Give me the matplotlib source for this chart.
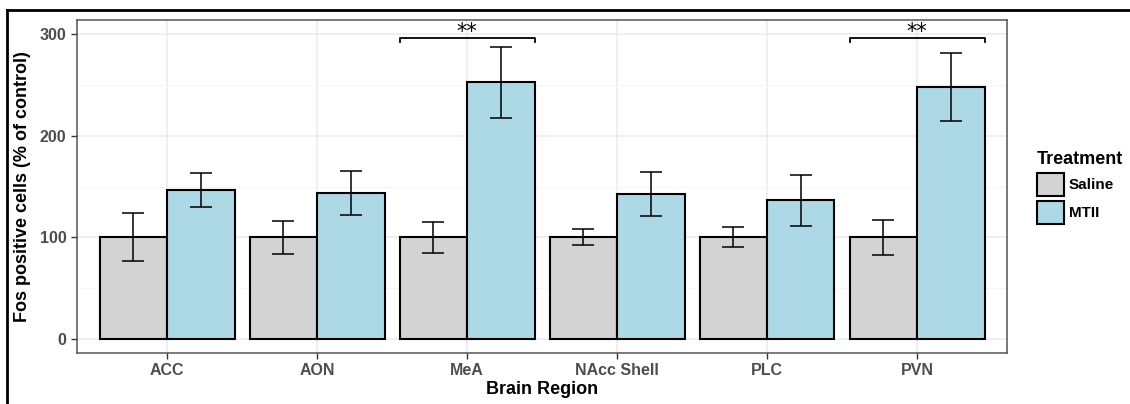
import matplotlib.pyplot as plt
import numpy as np
from matplotlib.patches import Patch
from matplotlib.lines import Line2D

regions = ['ACC', 'AON', 'MeA', 'NAcc Shell', 'PLC', 'PVN']
saline = [100, 100, 100, 100, 100, 100]
saline_err = [23.5, 16, 15, 8, 10, 17.5]
mtii = [146.5, 143.5, 252.5, 142.5, 136.5, 247.5]
mtii_err = [16.5, 21.5, 35, 22, 25, 33.5]
sig_regions = ['MeA', 'PVN']
sig_label = '**'

plt.rcParams['font.family'] = ['Liberation Sans', 'DejaVu Sans']
plt.rcParams['font.weight'] = 'bold'

fig = plt.figure(figsize=(11.3, 4.04), dpi=100)
ax = fig.add_axes([77 / 1130, 1 - 353 / 404, 930 / 1130, 333 / 404])

x = np.arange(len(regions))
w = 0.45
ax.bar(x - w / 2, saline, w, color='#D3D3D3', edgecolor='black', linewidth=1.5, zorder=3)
ax.bar(x + w / 2, mtii, w, color='#ADD8E6', edgecolor='black', linewidth=1.5, zorder=3)
ax.errorbar(x - w / 2, saline, yerr=saline_err, fmt='none', ecolor='black', elinewidth=1.1,
            capsize=11.5 * 0.72, capthick=1.1, zorder=4)
ax.errorbar(x + w / 2, mtii, yerr=mtii_err, fmt='none', ecolor='black', elinewidth=1.1,
            capsize=11.5 * 0.72, capthick=1.1, zorder=4)

for r in sig_regions:
    i = regions.index(r)
    ax.plot([i - w, i - w, i + w, i + w], [292, 296, 296, 292], color='black', lw=1.3, zorder=4)
    ax.text(i, 292, sig_label, ha='center', va='bottom', fontsize=15, color='black',
            fontweight='normal', family='DejaVu Sans')

ax.set_xlim(-0.6, 5.6)
ax.set_ylim(-13.8, 313.8)
ax.set_xticks(x)
ax.set_xticklabels(regions)
ax.set_yticks([0, 100, 200, 300])
ax.set_yticks([50, 150, 250], minor=True)
ax.grid(True, which='major', color='#EBEBEB', lw=1.1, zorder=0)
ax.grid(True, which='minor', axis='y', color='#F4F4F4', lw=0.6, zorder=0)
ax.tick_params(which='major', length=4, color='#333333', labelsize=11.5, labelcolor='#4D4D4D', width=1)
ax.tick_params(which='minor', length=0)
for s in ax.spines.values():
    s.set_color('#555555')
    s.set_linewidth(1.1)

ax.set_xlabel('Brain Region', fontsize=13, fontweight='bold', labelpad=2)
ax.set_ylabel('Fos positive cells (% of control)', fontsize=13, fontweight='bold', labelpad=6)

handles = [Patch(facecolor='#D3D3D3', edgecolor='black', linewidth=1.5, label='Saline'),
           Patch(facecolor='#ADD8E6', edgecolor='black', linewidth=1.5, label='MTII')]
leg = fig.legend(handles=handles, title='Treatment', loc='upper left',
                 bbox_to_anchor=(1026 / 1130, 1 - 140 / 404), frameon=False,
                 fontsize=11, title_fontsize=13, handlelength=1.8, handleheight=1.9,
                 labelspacing=0.35, handletextpad=0.3, borderpad=0.2)
leg.get_title().set_fontweight('bold')
leg._legend_box.align = 'left'

fig.add_artist(Line2D([7 / 1130, 7 / 1130], [0, 1 - 10 / 404], color='black', lw=2,
                      transform=fig.transFigure))
fig.add_artist(Line2D([7 / 1130, 1], [1 - 10 / 404, 1 - 10 / 404], color='black', lw=2,
                      transform=fig.transFigure))

fig.savefig('out.png', dpi=100)
